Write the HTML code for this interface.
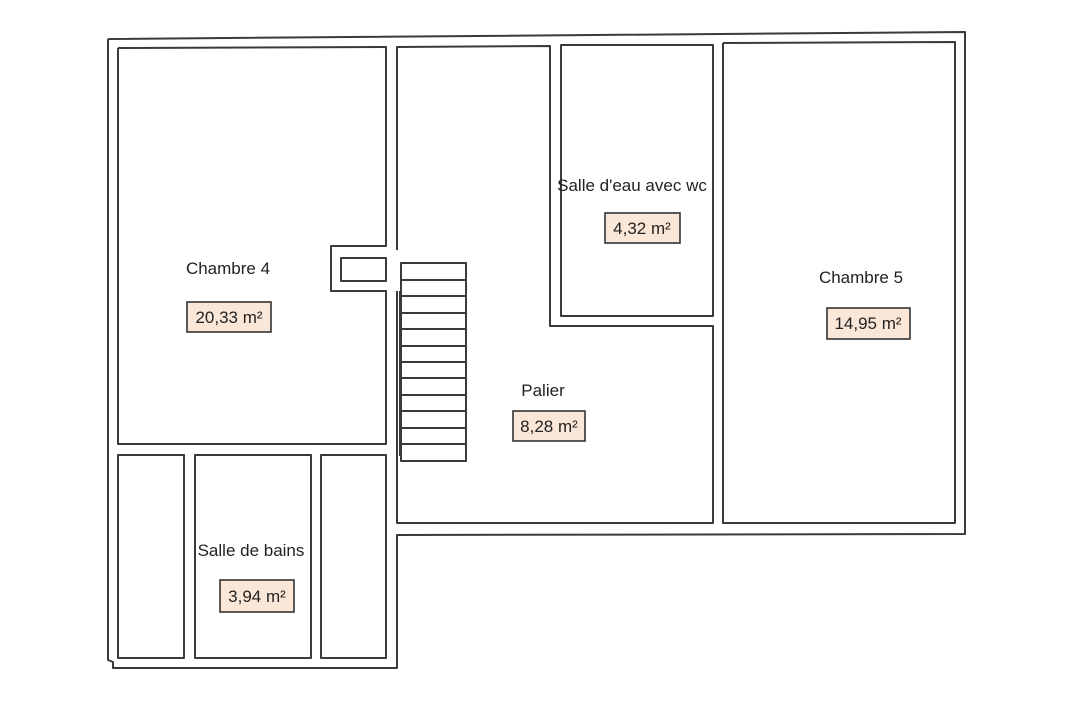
<!DOCTYPE html>
<html><head><meta charset="utf-8"><style>
html,body{margin:0;padding:0;background:#fff;}
svg{display:block;}
text{font-family:"Liberation Sans",sans-serif;font-size:17px;fill:#222;}
.w{fill:none;stroke:#3a3a3a;stroke-width:2;stroke-linejoin:round;}
.b{fill:#fbe7d8;stroke:#333;stroke-width:1.6;}
</style></head><body>
<svg width="1080" height="720" viewBox="0 0 1080 720">
<polyline class="w" points="108,39 965,32 965,534 397,535 397,668 113,668 113,662 108,660 108,39"/>
<polyline class="w" points="118,48 386,47 386,246 331,246 331,291 386,291 386,444 118,444 118,48"/>
<rect class="w" x="341" y="258" width="45" height="23"/>
<polyline class="w" points="397,250 397,47 550,46 550,326 713,326 713,523 397,523 397,291"/>
<line class="w" x1="400" y1="291" x2="400" y2="456"/>
<rect class="w" x="561" y="45" width="152" height="271"/>
<polyline class="w" points="723,43 955,42 955,523 723,523 723,43"/>
<rect class="w" x="118" y="455" width="66" height="203"/>
<rect class="w" x="195" y="455" width="116" height="203"/>
<rect class="w" x="321" y="455" width="65" height="203"/>
<rect class="w" x="401" y="263" width="65" height="198"/>
<g class="w">
<line x1="401" y1="280" x2="466" y2="280"/><line x1="401" y1="296" x2="466" y2="296"/>
<line x1="401" y1="313" x2="466" y2="313"/><line x1="401" y1="329" x2="466" y2="329"/>
<line x1="401" y1="346" x2="466" y2="346"/><line x1="401" y1="362" x2="466" y2="362"/>
<line x1="401" y1="378" x2="466" y2="378"/><line x1="401" y1="395" x2="466" y2="395"/>
<line x1="401" y1="411" x2="466" y2="411"/><line x1="401" y1="428" x2="466" y2="428"/>
<line x1="401" y1="444" x2="466" y2="444"/>
</g>
<text x="228" y="274" text-anchor="middle">Chambre 4</text>
<rect class="b" x="187" y="302" width="84" height="30"/>
<text x="229" y="323" text-anchor="middle">20,33 m²</text>

<text x="632" y="191" text-anchor="middle">Salle d'eau avec wc</text>
<rect class="b" x="605" y="213" width="75" height="30"/>
<text x="642" y="234" text-anchor="middle">4,32 m²</text>

<text x="861" y="283" text-anchor="middle">Chambre 5</text>
<rect class="b" x="827" y="308" width="83" height="31"/>
<text x="868" y="329" text-anchor="middle">14,95 m²</text>

<text x="543" y="396" text-anchor="middle">Palier</text>
<rect class="b" x="513" y="411" width="72" height="30"/>
<text x="549" y="432" text-anchor="middle">8,28 m²</text>

<text x="251" y="556" text-anchor="middle">Salle de bains</text>
<rect class="b" x="220" y="580" width="74" height="32"/>
<text x="257" y="602" text-anchor="middle">3,94 m²</text>
</svg>
</body></html>
